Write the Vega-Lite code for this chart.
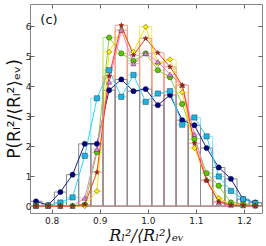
{
  "$schema": "https://vega.github.io/schema/vega-lite/v6.json",
  "width": 232,
  "height": 209,
  "autosize": {"type": "none"},
  "padding": {"left": 30, "top": 4, "right": 4, "bottom": 33},
  "config": {
    "view": {"stroke": "#888888", "strokeWidth": 1},
    "axis": {"labelFont": "DejaVu Sans", "labelFontSize": 9, "labelColor": "#222222", "tickColor": "#666666", "domain": false, "grid": false, "titleColor": "#111111", "titleFontWeight": "normal"}
  },
  "resolve": {"axis": {"x": "independent", "y": "independent"}},
  "datasets": {
    "h": [
      {"s": "1", "k": 0, "x": 0.7675, "p": 0.16}, {"s": "1", "k": 1, "x": 0.7928, "p": 0.03}, {"s": "1", "k": 2, "x": 0.8182, "p": 0.47}, {"s": "1", "k": 3, "x": 0.8435, "p": 1.05}, {"s": "1", "k": 4, "x": 0.8689, "p": 2.08}, {"s": "1", "k": 5, "x": 0.8942, "p": 2.08}, {"s": "1", "k": 6, "x": 0.9195, "p": 3.87}, {"s": "1", "k": 7, "x": 0.9449, "p": 4.23}, {"s": "1", "k": 8, "x": 0.9702, "p": 3.84}, {"s": "1", "k": 9, "x": 0.9956, "p": 3.91}, {"s": "1", "k": 10, "x": 1.0209, "p": 3.37}, {"s": "1", "k": 11, "x": 1.0462, "p": 3.71}, {"s": "1", "k": 12, "x": 1.0716, "p": 2.87}, {"s": "1", "k": 13, "x": 1.0969, "p": 2.7}, {"s": "1", "k": 14, "x": 1.1223, "p": 1.94}, {"s": "1", "k": 15, "x": 1.1476, "p": 1.29}, {"s": "1", "k": 16, "x": 1.1729, "p": 0.91}, {"s": "1", "k": 17, "x": 1.1983, "p": 0.23}, {"s": "1", "k": 18, "x": 1.2236, "p": 0.12},
      {"s": "2", "k": 0, "x": 0.7675, "p": 0.02}, {"s": "2", "k": 1, "x": 0.7928, "p": 0.02}, {"s": "2", "k": 2, "x": 0.8182, "p": 0.12}, {"s": "2", "k": 3, "x": 0.8435, "p": 0.29}, {"s": "2", "k": 4, "x": 0.8689, "p": 1.68}, {"s": "2", "k": 5, "x": 0.8942, "p": 3.6}, {"s": "2", "k": 6, "x": 0.9195, "p": 4.54}, {"s": "2", "k": 7, "x": 0.9449, "p": 3.65}, {"s": "2", "k": 8, "x": 0.9702, "p": 4.38}, {"s": "2", "k": 9, "x": 0.9956, "p": 3.48}, {"s": "2", "k": 10, "x": 1.0209, "p": 3.76}, {"s": "2", "k": 11, "x": 1.0462, "p": 3.84}, {"s": "2", "k": 12, "x": 1.0716, "p": 2.72}, {"s": "2", "k": 13, "x": 1.0969, "p": 2.96}, {"s": "2", "k": 14, "x": 1.1223, "p": 2.33}, {"s": "2", "k": 15, "x": 1.1476, "p": 0.99}, {"s": "2", "k": 16, "x": 1.1729, "p": 0.51}, {"s": "2", "k": 17, "x": 1.1983, "p": 0.23}, {"s": "2", "k": 18, "x": 1.2236, "p": 0.1},
      {"s": "3", "k": 0, "x": 0.7675, "p": 0.0}, {"s": "3", "k": 1, "x": 0.7928, "p": 0.0}, {"s": "3", "k": 2, "x": 0.8182, "p": 0.0}, {"s": "3", "k": 3, "x": 0.8435, "p": 0.01}, {"s": "3", "k": 4, "x": 0.8689, "p": 0.05}, {"s": "3", "k": 5, "x": 0.8942, "p": 1.8}, {"s": "3", "k": 6, "x": 0.9195, "p": 5.63}, {"s": "3", "k": 7, "x": 0.9449, "p": 5.1}, {"s": "3", "k": 8, "x": 0.9702, "p": 4.85}, {"s": "3", "k": 9, "x": 0.9956, "p": 5.1}, {"s": "3", "k": 10, "x": 1.0209, "p": 4.54}, {"s": "3", "k": 11, "x": 1.0462, "p": 4.3}, {"s": "3", "k": 12, "x": 1.0716, "p": 3.41}, {"s": "3", "k": 13, "x": 1.0969, "p": 2.24}, {"s": "3", "k": 14, "x": 1.1223, "p": 1.1}, {"s": "3", "k": 15, "x": 1.1476, "p": 0.68}, {"s": "3", "k": 16, "x": 1.1729, "p": 0.12}, {"s": "3", "k": 17, "x": 1.1983, "p": 0.07}, {"s": "3", "k": 18, "x": 1.2236, "p": 0.02},
      {"s": "4", "k": 0, "x": 0.7675, "p": 0.0}, {"s": "4", "k": 1, "x": 0.7928, "p": 0.0}, {"s": "4", "k": 2, "x": 0.8182, "p": 0.0}, {"s": "4", "k": 3, "x": 0.8435, "p": 0.0}, {"s": "4", "k": 4, "x": 0.8689, "p": 0.0}, {"s": "4", "k": 5, "x": 0.8942, "p": 0.5}, {"s": "4", "k": 6, "x": 0.9195, "p": 5.15}, {"s": "4", "k": 7, "x": 0.9449, "p": 5.88}, {"s": "4", "k": 8, "x": 0.9702, "p": 5.15}, {"s": "4", "k": 9, "x": 0.9956, "p": 5.99}, {"s": "4", "k": 10, "x": 1.0209, "p": 4.76}, {"s": "4", "k": 11, "x": 1.0462, "p": 4.9}, {"s": "4", "k": 12, "x": 1.0716, "p": 3.8}, {"s": "4", "k": 13, "x": 1.0969, "p": 1.94}, {"s": "4", "k": 14, "x": 1.1223, "p": 0.88}, {"s": "4", "k": 15, "x": 1.1476, "p": 0.27}, {"s": "4", "k": 16, "x": 1.1729, "p": 0.05}, {"s": "4", "k": 17, "x": 1.1983, "p": 0.02}, {"s": "4", "k": 18, "x": 1.2236, "p": 0.01},
      {"s": "5", "k": 0, "x": 0.7675, "p": 0.0}, {"s": "5", "k": 1, "x": 0.7928, "p": 0.0}, {"s": "5", "k": 2, "x": 0.8182, "p": 0.0}, {"s": "5", "k": 3, "x": 0.8435, "p": 0.0}, {"s": "5", "k": 4, "x": 0.8689, "p": 0.27}, {"s": "5", "k": 5, "x": 0.8942, "p": 1.9}, {"s": "5", "k": 6, "x": 0.9195, "p": 4.15}, {"s": "5", "k": 7, "x": 0.9449, "p": 5.88}, {"s": "5", "k": 8, "x": 0.9702, "p": 4.76}, {"s": "5", "k": 9, "x": 0.9956, "p": 5.1}, {"s": "5", "k": 10, "x": 1.0209, "p": 4.82}, {"s": "5", "k": 11, "x": 1.0462, "p": 4.4}, {"s": "5", "k": 12, "x": 1.0716, "p": 4.04}, {"s": "5", "k": 13, "x": 1.0969, "p": 2.4}, {"s": "5", "k": 14, "x": 1.1223, "p": 0.88}, {"s": "5", "k": 15, "x": 1.1476, "p": 0.12}, {"s": "5", "k": 16, "x": 1.1729, "p": 0.04}, {"s": "5", "k": 17, "x": 1.1983, "p": 0.02}, {"s": "5", "k": 18, "x": 1.2236, "p": 0.02},
      {"s": "6", "k": 0, "x": 0.7675, "p": 0.0}, {"s": "6", "k": 1, "x": 0.7928, "p": 0.0}, {"s": "6", "k": 2, "x": 0.8182, "p": 0.0}, {"s": "6", "k": 3, "x": 0.8435, "p": 0.0}, {"s": "6", "k": 4, "x": 0.8689, "p": 0.05}, {"s": "6", "k": 5, "x": 0.8942, "p": 1.13}, {"s": "6", "k": 6, "x": 0.9195, "p": 4.34}, {"s": "6", "k": 7, "x": 0.9449, "p": 6.04}, {"s": "6", "k": 8, "x": 0.9702, "p": 5.04}, {"s": "6", "k": 9, "x": 0.9956, "p": 5.6}, {"s": "6", "k": 10, "x": 1.0209, "p": 5.12}, {"s": "6", "k": 11, "x": 1.0462, "p": 4.65}, {"s": "6", "k": 12, "x": 1.0716, "p": 4.04}, {"s": "6", "k": 13, "x": 1.0969, "p": 2.1}, {"s": "6", "k": 14, "x": 1.1223, "p": 0.85}, {"s": "6", "k": 15, "x": 1.1476, "p": 0.15}, {"s": "6", "k": 16, "x": 1.1729, "p": 0.03}, {"s": "6", "k": 17, "x": 1.1983, "p": 0.02}, {"s": "6", "k": 18, "x": 1.2236, "p": 0.0}
    ],
    "edges": [
      {"k": 0, "lo": 0.7548, "hi": 0.7802}, {"k": 1, "lo": 0.7802, "hi": 0.8055}, {"k": 2, "lo": 0.8055, "hi": 0.8308}, {"k": 3, "lo": 0.8308, "hi": 0.8562}, {"k": 4, "lo": 0.8562, "hi": 0.8815}, {"k": 5, "lo": 0.8815, "hi": 0.9069}, {"k": 6, "lo": 0.9069, "hi": 0.9322}, {"k": 7, "lo": 0.9322, "hi": 0.9575}, {"k": 8, "lo": 0.9575, "hi": 0.9829}, {"k": 9, "lo": 0.9829, "hi": 1.0082}, {"k": 10, "lo": 1.0082, "hi": 1.0336}, {"k": 11, "lo": 1.0336, "hi": 1.0589}, {"k": 12, "lo": 1.0589, "hi": 1.0842}, {"k": 13, "lo": 1.0842, "hi": 1.1096}, {"k": 14, "lo": 1.1096, "hi": 1.1349}, {"k": 15, "lo": 1.1349, "hi": 1.1603}, {"k": 16, "lo": 1.1603, "hi": 1.1856}, {"k": 17, "lo": 1.1856, "hi": 1.2109}, {"k": 18, "lo": 1.2109, "hi": 1.2363}
    ],
    "lab": [{"x": 0.7765, "y": 6.2, "t": "(c)"}]
  },
  "data": {"name": "h"},
  "layer": [
    {
      "transform": [{"filter": "datum.s !== '1'"}, {"lookup": "k", "from": {"data": {"name": "edges"}, "key": "k", "fields": ["lo", "hi"]}}],
      "mark": {"type": "bar", "fillOpacity": 0, "strokeWidth": 1, "clip": true},
      "encoding": {
        "x": {"field": "lo", "type": "quantitative", "scale": {"domain": [0.755, 1.2375], "nice": false, "zero": false},
              "axis": {"orient": "bottom", "values": [0.8, 0.9, 1.0, 1.1, 1.2], "format": ".1f", "tickSize": -4, "labelPadding": 7,
                       "title": "Rₗ²/⟨Rₗ²⟩ₑᵥ", "titleFont": "DejaVu Serif", "titleFontStyle": "italic", "titleFontSize": 16, "titlePadding": 2}},
        "x2": {"field": "hi"},
        "y": {"field": "p", "type": "quantitative", "scale": {"domain": [-0.23, 6.75], "nice": false, "zero": false},
              "axis": {"orient": "left", "values": [0, 1, 2, 3, 4, 5, 6], "format": "d", "tickSize": -4, "labelPadding": 3,
                       "title": "P(Rₗ²/⟨Rₗ²⟩ₑᵥ)", "titleFont": "DejaVu Sans", "titleFontSize": 17, "titlePadding": 2}},
        "y2": {"datum": 0},
        "stroke": {"field": "s", "type": "nominal", "legend": null,
                   "scale": {"domain": ["1", "2", "3", "4", "5", "6"], "range": ["#8a8a96", "#88e6ff", "#a8e67c", "#f6ea60", "#f4b0e6", "#ff9a80"]}}
      }
    },
    {
      "transform": [{"filter": "datum.s === '1'"}, {"lookup": "k", "from": {"data": {"name": "edges"}, "key": "k", "fields": ["lo", "hi"]}}],
      "mark": {"type": "bar", "fillOpacity": 0, "strokeWidth": 1, "clip": true},
      "encoding": {
        "x": {"field": "lo", "type": "quantitative", "axis": {"orient": "top", "values": [0.8, 0.9, 1.0, 1.1, 1.2], "labels": false, "tickSize": -4, "title": null}},
        "x2": {"field": "hi"},
        "y": {"field": "p", "type": "quantitative", "axis": {"orient": "right", "values": [0, 1, 2, 3, 4, 5, 6], "labels": false, "tickSize": -4, "title": null}},
        "y2": {"datum": 0},
        "stroke": {"field": "s", "type": "nominal", "legend": null}
      }
    },
    {
      "mark": {"type": "line", "strokeWidth": 1, "clip": true},
      "encoding": {
        "x": {"field": "x", "type": "quantitative", "axis": null},
        "y": {"field": "p", "type": "quantitative", "axis": null},
        "color": {"field": "s", "type": "nominal", "legend": null,
                  "scale": {"domain": ["1", "2", "3", "4", "5", "6"], "range": ["#1c1c8a", "#2ad8ff", "#82d23a", "#ffe000", "#ff7ad0", "#ff3a1a"]}}
      }
    },
    {
      "mark": {"type": "point", "filled": true, "size": 28, "stroke": "#222222", "strokeWidth": 0.4, "opacity": 1, "clip": true},
      "encoding": {
        "x": {"field": "x", "type": "quantitative", "axis": null},
        "y": {"field": "p", "type": "quantitative", "axis": null},
        "fill": {"field": "s", "type": "nominal", "legend": null,
                 "scale": {"domain": ["1", "2", "3", "4", "5", "6"], "range": ["#000080", "#1ab4e4", "#5ec800", "#ffee00", "#dd80e0", "#cc1100"]}},
        "shape": {"field": "s", "type": "nominal", "legend": null,
                  "scale": {"domain": ["1", "2", "3", "4", "5", "6"], "range": ["circle", "square", "circle", "diamond", "triangle-up", "M0,-1L0.225,-0.309L0.951,-0.309L0.363,0.118L0.588,0.809L0,0.382L-0.588,0.809L-0.363,0.118L-0.951,-0.309L-0.225,-0.309Z"]}}
      }
    },
    {
      "data": {"name": "lab"},
      "mark": {"type": "text", "font": "DejaVu Sans", "fontSize": 13, "align": "left", "baseline": "middle", "color": "#111111"},
      "encoding": {
        "x": {"field": "x", "type": "quantitative", "axis": null},
        "y": {"field": "y", "type": "quantitative", "axis": null},
        "text": {"field": "t"}
      }
    }
  ]
}
